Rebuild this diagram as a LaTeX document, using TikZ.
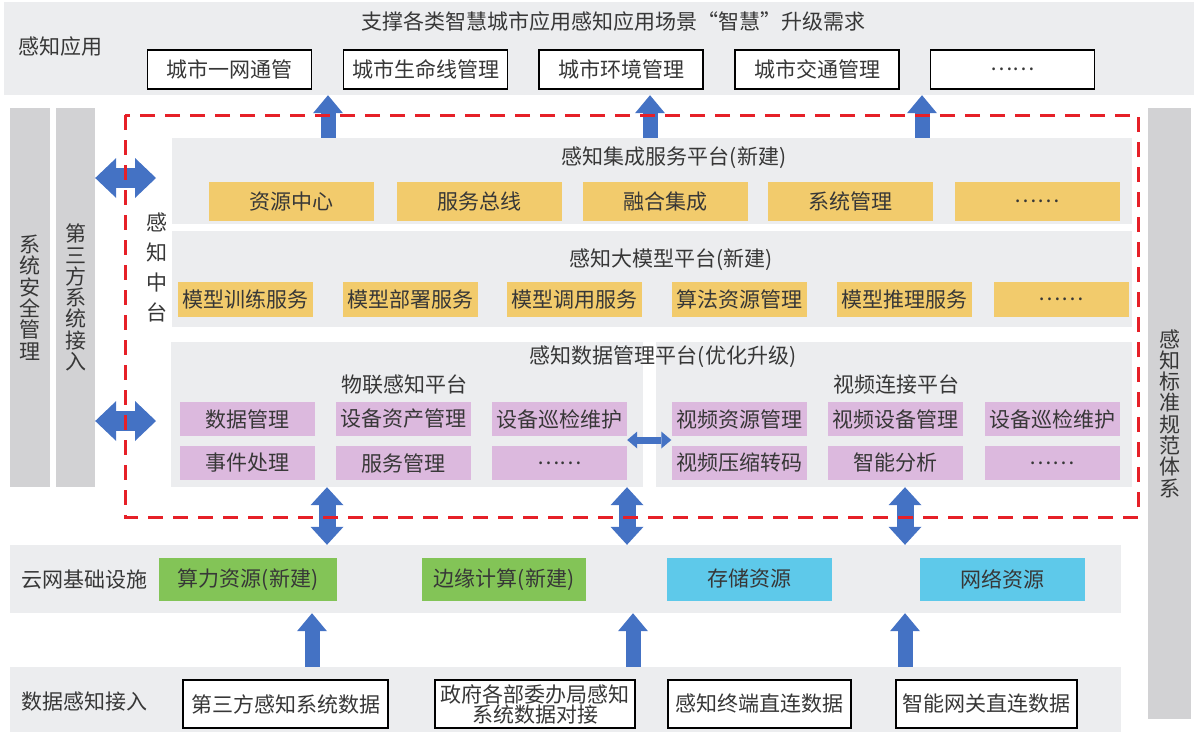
\documentclass[tikz,border=0pt]{standalone}
\usepackage{fontspec}
\setmainfont{Noto Sans CJK SC}
\usepackage{tikz}
\usetikzlibrary{arrows.meta,positioning}
\definecolor{bandgray}{RGB}{236,237,239}
\definecolor{bargray}{RGB}{210,210,212}
\definecolor{inkgray}{RGB}{55,55,55}
\definecolor{svcyellow}{RGB}{242,203,108}
\definecolor{datapurple}{RGB}{220,185,222}
\definecolor{compgreen}{RGB}{131,196,87}
\definecolor{storecyan}{RGB}{94,201,234}
\definecolor{arrowblue}{RGB}{68,114,196}
\definecolor{dashred}{RGB}{230,32,40}

\begin{document}
\begin{tikzpicture}[x=1pt, y=-1pt, font=\fontsize{21}{24}\selectfont, text=inkgray,
  band/.style={fill=bandgray, inner sep=0pt},
  sidebar/.style={fill=bargray, inner sep=0pt, minimum height=379pt, align=center, font=\fontsize{21}{21.3}\selectfont},
  appbox/.style={draw=black, line width=1.4pt, fill=white, inner sep=0pt, minimum height=39pt, minimum width=164pt},
  svcbox/.style={fill=svcyellow, inner sep=0pt, minimum height=39pt, minimum width=165pt},
  mdlbox/.style={fill=svcyellow, inner sep=0pt, minimum height=35pt, minimum width=135pt},
  databox/.style={fill=datapurple, inner sep=0pt, minimum height=34pt, minimum width=135pt},
  resbox/.style={fill=#1, inner sep=0pt, minimum height=43pt},
  srcbox/.style={draw=black, line width=1.4pt, fill=white, inner sep=0pt, minimum height=48pt, align=center},
  uparr/.style={line width=15pt, draw=arrowblue, -{Triangle[width=30pt,length=18pt,line width=0pt]}},
  duparr/.style={line width=17pt, draw=arrowblue, {Triangle[width=33pt,length=18pt,line width=0pt]}-{Triangle[width=33pt,length=18pt,line width=0pt]}},
  sidearr/.style={line width=20pt, draw=arrowblue, {Triangle[width=40pt,length=21pt,line width=0pt]}-{Triangle[width=40pt,length=21pt,line width=0pt]}},
  linkarr/.style={line width=7pt, draw=arrowblue, {Triangle[width=17pt,length=10pt,line width=0pt]}-{Triangle[width=17pt,length=10pt,line width=0pt]}},
  reddash/.style={draw=dashred, line width=3pt, dash pattern=on 15pt off 10pt}]
\useasboundingbox (0,0) rectangle (1194,732);

% layer bands
\node[band, minimum width=1190pt, minimum height=93pt] (appband) at (599,48.5) {};
\node[band, minimum width=960pt, minimum height=86pt] (svcband) at (652,181) {};
\node[band, minimum width=960pt, minimum height=96pt] (mdlband) at (652,279) {};
\node[band, minimum width=472pt, minimum height=145pt] (iotband) at (407,414.5) {};
\node[band, minimum width=476pt, minimum height=145pt] (vidband) at (894,414.5) {};
\node[band, minimum width=1111pt, minimum height=68pt] (cloudband) at (565.5,579) {};
\node[band, minimum width=1111pt, minimum height=65pt] (srcband) at (565.5,699.5) {};

% side bars
\node[sidebar, minimum width=40pt] (secbar) at (30,297.5) {系\\统\\安\\全\\管\\理};
\node[sidebar, minimum width=39pt] (extbar) at (75.5,297.5) {第\\三\\方\\系\\统\\接\\入};
\node[sidebar, minimum width=43pt, minimum height=611pt] (stdbar) at (1169.5,413.5) {感\\知\\标\\准\\规\\范\\体\\系};

% application layer
\node (apptitle) at (613,22) {支撑各类智慧城市应用感知应用场景“智慧”升级需求};
\node (applabel) at (61,47) {感知应用};
\foreach \n/\c/\t in {1/229.5/城市一网通管, 2/425.5/城市生命线管理, 3/621/城市环境管理,
                      4/817/城市交通管理, 5/1012.5/……}
  \node[appbox] (app\n) at (\c,69.5) {\t};

% sensing middle platform
\node[align=center, inner sep=0pt, font=\fontsize{21}{30}\selectfont] (midlabel) at (157,267) {感\\知\\中\\台};

\node (svctitle) at (674,158) {感知集成服务平台(新建)};
\foreach \n/\c/\t in {1/291.5/资源中心, 2/479.5/服务总线, 3/665.5/融合集成, 4/850.5/系统管理, 5/1037/……}
  \node[svcbox] (svc\n) at (\c,201.5) {\t};

\node (mdltitle) at (671,260) {感知大模型平台(新建)};
\foreach \n/\c/\t in {1/245/模型训练服务, 2/410/模型部署服务, 3/574.5/模型调用服务,
                      4/739.5/算法资源管理, 5/904.5/模型推理服务, 6/1061/……}
  \node[mdlbox] (mdl\n) at (\c,299.5) {\t};

\node (datatitle) at (663,357) {感知数据管理平台(优化升级)};
\node (iottitle) at (404,385) {物联感知平台};
\node (vidtitle) at (896,385) {视频连接平台};
\foreach \n/\c/\ta/\tb in {1/247/数据管理/事件处理, 2/403.5/设备资产管理/服务管理, 3/559.5/设备巡检维护/……} {
  \node[databox] (iotA\n) at (\c,419) {\ta};
  \node[databox] (iotB\n) at (\c,463) {\tb};
}
\foreach \n/\c/\ta/\tb in {1/739/视频资源管理/视频压缩转码, 2/895.5/视频设备管理/智能分析, 3/1052/设备巡检维护/……} {
  \node[databox] (vidA\n) at (\c,419) {\ta};
  \node[databox] (vidB\n) at (\c,463) {\tb};
}

% cloud infrastructure
\node (cloudlabel) at (84,580) {云网基础设施};
\node[resbox=compgreen, minimum width=178pt] (compute) at (248,579.5) {算力资源(新建)};
\node[resbox=compgreen, minimum width=164pt] (edgecomp) at (504,579.5) {边缘计算(新建)};
\node[resbox=storecyan, minimum width=165pt] (storage) at (749.5,579) {存储资源};
\node[resbox=storecyan, minimum width=165pt] (network) at (1002.5,579) {网络资源};

% data access
\node (srclabel) at (84,702) {数据感知接入};
\node[srcbox, minimum width=205pt] (src1) at (285.5,704) {第三方感知系统数据};
\node[srcbox, minimum width=200pt, font=\fontsize{21}{20}\selectfont] (src2) at (535,704) {政府各部委办局感知\\系统数据对接};
\node[srcbox, minimum width=183pt] (src3) at (759.5,704) {感知终端直连数据};
\node[srcbox, minimum width=181pt] (src4) at (986.5,704) {智能网关直连数据};

% arrows
\foreach \x [count=\i] in {328,650,922} {
  \coordinate (top\i) at (\x,0);
  \draw[uparr] (svcband.north -| top\i) -- (appband.south -| top\i);
}
\coordinate (sideA) at (156,178);
\coordinate (sideB) at (156,421);
\draw[sidearr] (extbar.east |- sideA) -- (sideA);
\draw[sidearr] (extbar.east |- sideB) -- (sideB);
\coordinate (linkY) at (0,440);
\draw[linkarr] (iotA3.east |- linkY) -- (vidA1.west |- linkY);
\foreach \x [count=\i] in {327,627,905} {
  \coordinate (mid\i) at (\x,0);
  \draw[duparr] (cloudband.north -| mid\i) -- (iotband.south -| mid\i);
}
\foreach \x [count=\i] in {312,633,905} {
  \coordinate (bot\i) at (\x,0);
  \draw[uparr] (srcband.north -| bot\i) -- (cloudband.south -| bot\i);
}

% sensing middle platform boundary
\draw[reddash] (125,115) rectangle (1138,517);
\end{tikzpicture}
\end{document}
